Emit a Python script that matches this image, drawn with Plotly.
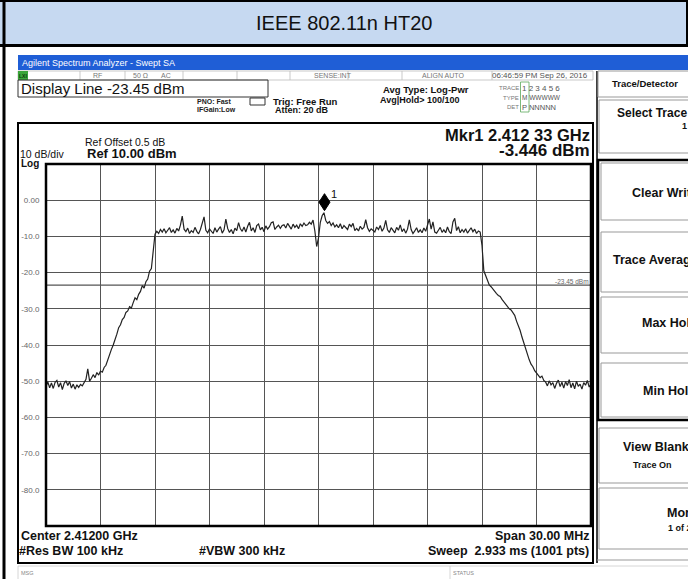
import plotly.graph_objects as go

# ---------------- data ----------------
freq_start_mhz = 2397.0
freq_step_mhz = 0.1
level_dbm = [
    # 2397.0 - 2397.9
    -51.5, -50.2, -51.8, -50.5, -52.0, -50.3, -49.8, -51.6, -50.4, -52.3,
    # 2398
    -50.6, -49.9, -51.2, -50.1, -51.9, -50.8, -52.2, -51.0, -51.7, -50.9,
    # 2399
    -51.3, -50.2, -49.5, -46.6, -50.0, -49.2, -48.2, -49.0, -47.6, -48.3,
    # 2400
    -47.2, -47.5, -46.2, -45.6, -44.0, -43.1, -41.2, -40.0, -38.1, -37.0,
    # 2401
    -35.2, -34.4, -33.0, -32.4, -31.0, -30.6, -29.4, -29.8, -28.3, -27.0,
    # 2402
    -27.5, -26.0, -25.2, -23.6, -24.3, -22.5, -21.8, -19.6, -18.9, -14.0,
    # 2403
    -9.4, -8.6, -9.2, -8.1, -8.8, -7.9, -9.0, -8.3, -7.6, -8.9,
    # 2404
    -8.2, -9.1, -7.8, -8.5, -6.9, -4.4, -8.0, -8.7, -7.7, -9.2,
    # 2405
    -8.4, -8.9, -7.5, -8.6, -9.3, -8.1, -6.0, -4.6, -8.3, -9.0,
    # 2406
    -7.9, -8.5, -9.2, -7.6, -8.8, -8.0, -7.3, -9.1, -8.2, -5.2,
    # 2407
    -7.8, -8.9, -8.1, -9.3, -7.7, -8.4, -6.2, -7.9, -8.6, -7.4,
    # 2408
    -8.8, -7.2, -6.1, -8.5, -7.6, -8.9, -7.0, -6.6, -8.2, -7.5,
    # 2409
    -8.7, -7.1, -8.0, -7.3, -6.2, -6.0, -8.1, -7.4, -6.9, -7.8,
    # 2410
    -7.0, -6.8, -7.7, -6.4, -7.2, -8.0, -6.6, -7.5, -6.9, -7.9,
    # 2411
    -6.5, -7.2, -6.3, -7.0, -6.8, -6.1, -6.6, -5.5, -8.5, -12.8,
    # 2412
    -10.4, -6.1, -4.3, -3.45, -5.6, -6.4, -5.9, -7.0, -6.3, -7.4,
    # 2413
    -6.8, -7.6, -6.5, -7.9, -7.0, -7.7, -8.1, -6.6, -7.3, -6.4,
    # 2414
    -8.4, -7.8, -8.5, -7.2, -8.0, -7.5, -5.4, -7.6, -8.6, -7.9,
    # 2415
    -8.3, -8.8, -7.4, -8.1, -7.0, -8.6, -7.7, -5.6, -8.2, -8.9,
    # 2416
    -7.6, -8.4, -9.0, -7.5, -8.3, -6.8, -8.7, -7.9, -9.1, -8.0,
    # 2417
    -5.4, -8.1, -9.2, -8.5, -7.6, -8.9, -8.2, -9.0, -7.7, -8.6,
    # 2418
    -7.2, -5.2, -8.0, -6.0, -8.8, -9.1, -8.3, -7.5, -8.9, -8.2,
    # 2419
    -9.0, -7.4, -8.7, -9.2, -6.0, -5.0, -8.4, -7.3, -9.0, -8.1,
    # 2420
    -8.8, -7.9, -9.1, -8.3, -7.6, -8.7, -8.0, -9.2, -8.5, -8.8,
    # 2421
    -12.5, -19.5, -21.0, -22.5, -23.4, -23.9, -24.6, -25.0, -25.8, -26.3,
    # 2422
    -26.6, -27.4, -28.0, -28.6, -29.5, -30.0, -30.3, -31.2, -31.8, -33.4,
    # 2423
    -34.6, -36.0, -37.8, -39.5, -40.8, -42.5, -44.1, -45.3, -46.0, -47.1,
    # 2424
    -47.8, -48.2, -49.0, -48.6, -49.8, -50.2, -51.3, -49.9, -51.0, -50.4,
    # 2425
    -52.0, -50.6, -49.7, -51.5, -50.3, -51.9, -50.1, -51.2, -49.6, -51.8,
    # 2426
    -50.5, -52.1, -50.0, -51.4, -50.8, -52.2, -50.4, -51.1, -49.8, -51.6,
    # 2427.0
    -50.9,
]
freq_mhz = [round(freq_start_mhz + i * freq_step_mhz, 2) for i in range(len(level_dbm))]

x_range_mhz = [2397.0, 2427.0]
x_grid_start_mhz = 2397.0
x_grid_step_mhz = 3.0
y_range_dbm = [-90.0, 10.0]
y_tick_vals = [0, -10, -20, -30, -40, -50, -60, -70, -80]
y_tick_text = ["0.00", "-10.0", "-20.0", "-30.0", "-40.0", "-50.0", "-60.0", "-70.0", "-80.0"]
display_line_dbm = -23.45
mkr_freq_mhz = 2412.33
mkr_level_dbm = -3.446

# ---------------- layout helpers (pixel -> paper) ----------------
SANS = "Arial, Liberation Sans, sans-serif"
W, H = 688, 579
L, R, T, B = 46, 591, 164, 526
PW, PH = R - L, B - T


def px(x):
    return (x - L) / PW


def py(y):
    return (B - y) / PH


shapes = []
annos = []


def rect(x0, y0, x1, y1, fill=None, line=None, lw=1.0, layer="below"):
    shapes.append(dict(type="rect", xref="paper", yref="paper",
                       x0=px(x0), x1=px(x1), y0=py(y1), y1=py(y0),
                       fillcolor=fill if fill else "rgba(0,0,0,0)",
                       line=dict(color=line if line else "rgba(0,0,0,0)",
                                 width=lw if line else 0),
                       layer=layer))


def seg(x0, y0, x1, y1, color, lw=1.0, layer="below"):
    shapes.append(dict(type="line", xref="paper", yref="paper",
                       x0=px(x0), x1=px(x1), y0=py(y0), y1=py(y1),
                       line=dict(color=color, width=lw), layer=layer))


def label(x, y, s, size, color="#111", bold=False, anchor="left", family=SANS):
    annos.append(dict(xref="paper", yref="paper", x=px(x), y=py(y),
                      text=f"<b>{s}</b>" if bold else s, showarrow=False,
                      xanchor=anchor, yanchor="middle",
                      font=dict(size=size, color=color, family=family),
                      borderpad=0, borderwidth=0))


# ---- title band ----
rect(0, 0, 688, 45, fill="#c6d9f1")
seg(0, 45.5, 688, 45.5, "black", 3)
seg(0, 1, 688, 1, "black", 2)
seg(687, 0, 687, 46, "black", 2)
seg(4, 0, 4, 579, "black", 3, layer="above")
label(344, 23, "IEEE 802.11n HT20", 20, color="#111", anchor="center")

# ---- analyzer window title bar ----
rect(18, 55, 688, 70, fill="#1f5ed6")
label(22, 62.5, "Agilent Spectrum Analyzer - Swept SA", 9, color="white")

# ---- status row ----
rect(18, 71, 593, 80, line="#bbbbbb", lw=0.8)
rect(18, 71, 28, 80, fill="#3aa53a")
label(18.5, 75.5, "LXI", 5, color="#0a3a0a", bold=True)
for sx in [80, 125, 183, 237, 290, 348, 402, 492]:
    seg(sx, 71, sx, 80, "#bbbbbb", 0.8)
label(97, 75.5, "RF", 7, color="#777", anchor="center")
label(140, 75.5, "50 Ω", 7, color="#777", anchor="center")
label(166, 75.5, "AC", 7, color="#777", anchor="center")
label(333, 75.5, "SENSE:INT", 7, color="#777", anchor="center")
label(443, 75.5, "ALIGN AUTO", 7, color="#777", anchor="center")
label(540, 75.5, "06:46:59 PM Sep 26, 2016", 8, color="#555", anchor="center")

# ---- display line box & settings ----
rect(18, 80, 268, 97, line="#333", lw=1)
label(21, 88.5, "Display Line -23.45 dBm", 15, color="#111")
label(197, 101.5, "PNO: Fast", 7, color="#222", bold=True)
label(197, 109, "IFGain:Low", 7, color="#222", bold=True)
rect(250, 98, 265, 105, line="#333", lw=1)
label(273, 101.5, "Trig: Free Run", 9.5, color="#111", bold=True)
label(275, 110, "Atten: 20 dB", 9, color="#111", bold=True)
label(383, 89, "Avg Type: Log-Pwr", 9.5, color="#111", bold=True)
label(380, 100, "Avg|Hold&gt; 100/100", 9, color="#111", bold=True)
label(519, 88, "TRACE", 6, color="#777", anchor="right")
label(519, 98, "TYPE", 6, color="#777", anchor="right")
label(519, 107, "DET", 6, color="#777", anchor="right")
label(522, 88, "1 2 3 4 5 6", 8, color="#555")
label(522, 98, "M WWWWW", 6.5, color="#555")
label(522, 107, "P NNNNN", 7.5, color="#555")
rect(520.5, 82, 529, 112, line="#5aa85a", lw=0.8)

# ---- right softkey panel ----
KEY = 12.5
seg(597, 71, 597, 563, "black", 1.5)
rect(598, 71, 690, 97, line="#999", lw=1)
label(612, 84, "Trace/Detector", 9.5, color="#111", bold=True)
rect(599, 100, 690, 153, line="#999", lw=1)
label(617, 113, "Select Trace", 12, color="#111", bold=True)
label(682, 126, "1", 9, color="#111", bold=True)
rect(598, 160, 692, 420, line="black", lw=2.5)
rect(601, 163, 690, 220, line="#999", lw=1)
label(632, 193, "Clear Write", KEY, color="#111", bold=True)
rect(601, 232, 690, 292, line="#999", lw=1)
label(613, 260, "Trace Average", KEY, color="#111", bold=True)
rect(601, 297, 690, 353, line="#999", lw=1)
label(642, 323, "Max Hold", KEY, color="#111", bold=True)
rect(601, 363, 690, 417, line="#999", lw=1)
label(643, 391, "Min Hold", KEY, color="#111", bold=True)
rect(599, 428, 690, 483, line="#999", lw=1)
label(623, 447, "View Blank", KEY, color="#111", bold=True)
label(633, 465, "Trace On", 9, color="#111", bold=True)
rect(599, 488, 690, 549, line="#999", lw=1)
label(667, 513, "More", KEY, color="#111", bold=True)
label(668, 528, "1 of 2", 9, color="#111", bold=True)
seg(597, 560, 690, 560, "#999", 1)

# ---- screen frame & texts above/below graticule ----
rect(18, 123, 593, 563, line="black", lw=2, layer="above")
label(590, 135, "Mkr1 2.412 33 GHz", 16.5, color="#111", bold=True, anchor="right")
label(590, 150, "-3.446 dBm", 17, color="#111", bold=True, anchor="right")
label(85, 142, "Ref Offset 0.5 dB", 10.5, color="#111")
label(87, 153, "Ref 10.00 dBm", 13, color="#111", bold=True)
label(20, 153.5, "10 dB/div", 10.5, color="#111")
label(21, 163.5, "Log", 10, color="#111", bold=True)
label(21, 536, "Center 2.41200 GHz", 12.5, color="#111", bold=True)
label(19, 551, "#Res BW 100 kHz", 12.5, color="#111", bold=True)
label(199, 551, "#VBW 300 kHz", 12.5, color="#111", bold=True)
label(589, 536, "Span 30.00 MHz", 12.5, color="#111", bold=True, anchor="right")
label(589, 551, "Sweep  2.933 ms (1001 pts)", 12.5, color="#111", bold=True, anchor="right")

# ---- bottom status bar ----
rect(18, 566, 690, 580, line="#cccccc", lw=0.8)
seg(450, 566, 450, 579, "#cccccc", 0.8)
label(21, 572.5, "MSG", 5.5, color="#888")
label(453, 572.5, "STATUS", 5.5, color="#888")

# ---- graticule frame ----
rect(L, T, R, B, line="black", lw=2.5, layer="above")

# ---- display line and its label (data coordinates) ----
shapes.append(dict(type="line", xref="x", yref="y",
                   x0=x_range_mhz[0], x1=x_range_mhz[1],
                   y0=display_line_dbm, y1=display_line_dbm,
                   line=dict(color="#555", width=1.2), layer="below"))
annos.append(dict(xref="paper", yref="y", x=px(589), y=display_line_dbm,
                  text=f"{display_line_dbm:.2f} dBm", showarrow=False,
                  xanchor="right", yanchor="bottom",
                  font=dict(size=6.5, color="#666", family=SANS),
                  borderpad=0, borderwidth=0))

# ---- marker 1 (diamond drawn just above the trace point) ----
shapes.append(dict(type="path", xref="x", yref="y",
                   xsizemode="pixel", ysizemode="pixel",
                   xanchor=mkr_freq_mhz, yanchor=mkr_level_dbm,
                   path="M 0 2 L 5.5 10.5 L 0 19 L -5.5 10.5 Z",
                   fillcolor="black", line=dict(color="black", width=1),
                   layer="above"))
annos.append(dict(xref="x", yref="y", x=mkr_freq_mhz, y=mkr_level_dbm,
                  text="1", showarrow=False, xanchor="center", yanchor="middle",
                  xshift=9, yshift=19,
                  font=dict(size=11, color="#111", family=SANS)))

# ---------------- figure ----------------
fig = go.Figure(go.Scatter(x=freq_mhz, y=level_dbm, mode="lines",
                           line=dict(color="#222", width=1.2),
                           hoverinfo="skip"))
fig.update_layout(width=W, height=H, autosize=False,
                  margin=dict(l=L, r=W - R, t=T, b=H - B, pad=0),
                  paper_bgcolor="white", plot_bgcolor="white",
                  showlegend=False, shapes=shapes, annotations=annos)
fig.update_xaxes(range=x_range_mhz, tick0=x_grid_start_mhz, dtick=x_grid_step_mhz,
                 showgrid=True, gridcolor="#555", gridwidth=1.2,
                 showticklabels=False, ticks="", zeroline=False, showline=False)
fig.update_yaxes(range=y_range_dbm, tickmode="array", tickvals=y_tick_vals,
                 ticktext=y_tick_text, showgrid=True, gridcolor="#555",
                 gridwidth=1.2, zeroline=False, showline=False,
                 ticks="outside", ticklen=4, tickcolor="rgba(0,0,0,0)",
                 tickfont=dict(size=8, color="#666", family=SANS))
fig.write_html("out.html", config={"displayModeBar": False},
               post_script="document.body.style.margin='0';"
                           "document.body.style.overflow='hidden';")
